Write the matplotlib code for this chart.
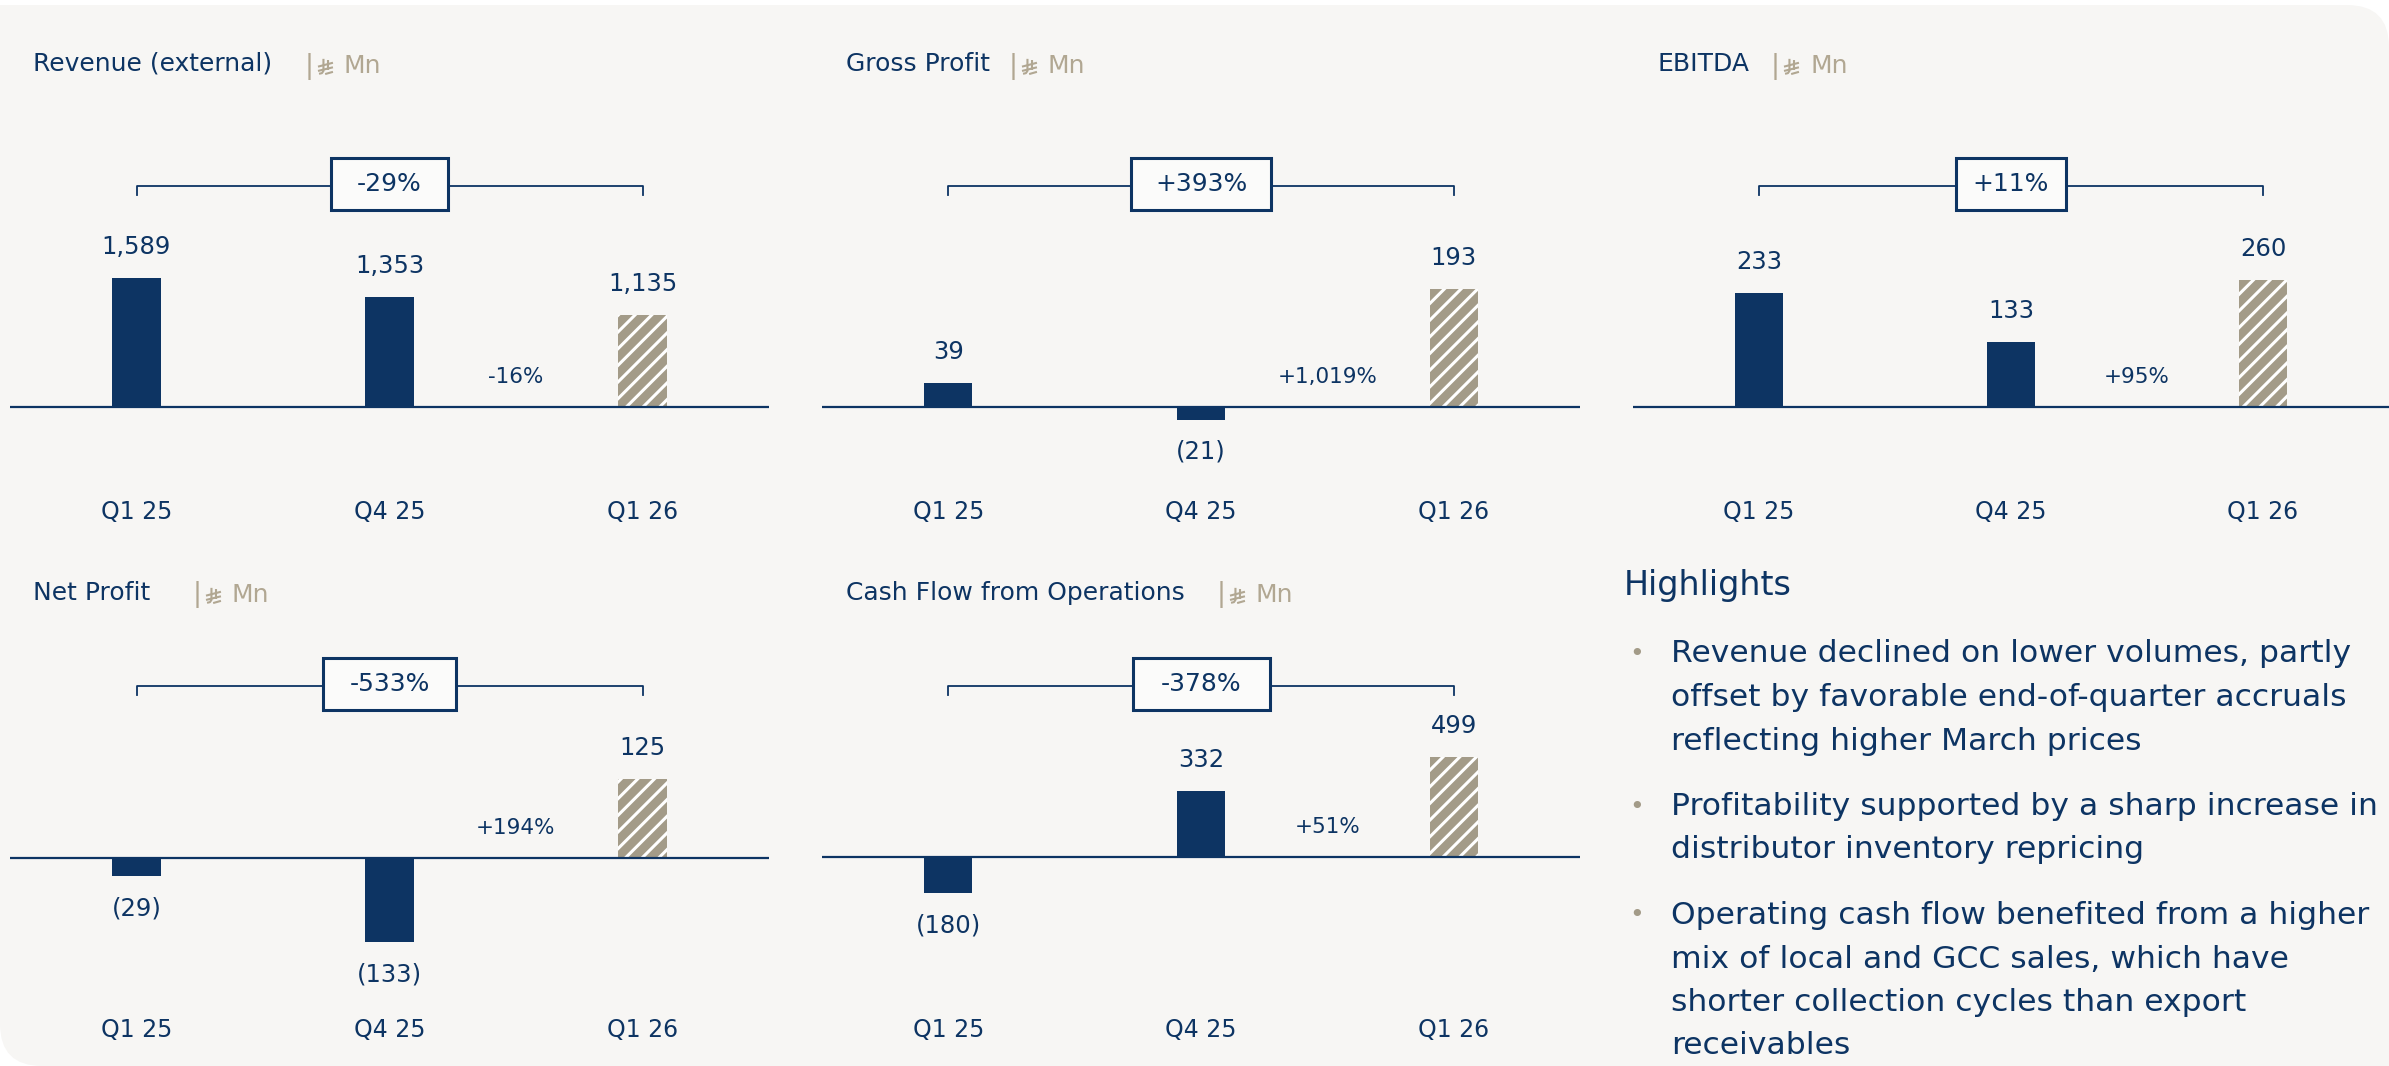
import matplotlib.pyplot as plt
import matplotlib.transforms as mtransforms
from matplotlib.patches import FancyBboxPatch, Rectangle
from matplotlib.lines import Line2D

# ---- data ----
quarters = ["Q1 25", "Q4 25", "Q1 26"]
revenue = [1589, 1353, 1135]
gross_profit = [39, -21, 193]
ebitda = [233, 133, 260]
net_profit = [-29, -133, 125]
cash_flow_ops = [-180, 332, 499]

titles = ["Revenue (external)", "Gross Profit", "EBITDA", "Net Profit", "Cash Flow from Operations"]
yoy_change = ["-29%", "+393%", "+11%", "-533%", "-378%"]
qoq_change = ["-16%", "+1,019%", "+95%", "+194%", "+51%"]

highlights = [
    ["Revenue declined on lower volumes, partly",
     "offset by favorable end-of-quarter accruals",
     "reflecting higher March prices"],
    ["Profitability supported by a sharp increase in",
     "distributor inventory repricing"],
    ["Operating cash flow benefited from a higher",
     "mix of local and GCC sales, which have",
     "shorter collection cycles than export",
     "receivables"],
]

# ---- style ----
NAVY = "#0d3463"
TAN = "#a39b88"
UNIT = "#b1a792"
BG = "#f7f6f4"
W, H = 2389, 1066

plt.rcParams["font.family"] = ["DejaVu Sans"]
plt.rcParams["hatch.linewidth"] = 2.2

fig = plt.figure(figsize=(W / 100, H / 100), dpi=100, facecolor="white")


def fx(x):
    return x / W


def fy(y):
    return 1 - y / H


# background card: rounded top-right and bottom-left corners
r = 42
card = FancyBboxPatch((0, 0), 1, fy(5), boxstyle=f"round,pad=0,rounding_size={r / W}",
                      mutation_aspect=W / H, transform=fig.transFigure,
                      facecolor=BG, edgecolor="none", zorder=-10)
fig.add_artist(card)
fig.add_artist(Rectangle((0, fy(5 + r)), fx(r), r / H, transform=fig.transFigure,
                         facecolor=BG, edgecolor="none", zorder=-10))
fig.add_artist(Rectangle((fx(W - r), 0), fx(r), r / H, transform=fig.transFigure,
                         facecolor=BG, edgecolor="none", zorder=-10))


def riyal(x, y, color):
    # small hand-drawn Saudi riyal sign, x,y = left / vertical centre in px
    s = 13.0
    strokes = [
        [(0.42, -0.55), (0.42, 0.38), (0.30, 0.55), (0.08, 0.60)],
        [(0.80, -0.45), (0.80, 0.30)],
        [(0.0, 0.05), (1.15, -0.25)],
        [(0.0, 0.38), (1.15, 0.10)],
        [(0.55, 0.62), (1.15, 0.45)],
    ]
    for st in strokes:
        xs = [fx(x + px * s) for px, py in st]
        ys = [fy(y + py * s) for px, py in st]
        fig.add_artist(Line2D(xs, ys, transform=fig.transFigure, color=color, lw=1.5,
                              solid_capstyle="butt"))


panels = [
    dict(values=revenue, x0=10, x1=769, top=150, bot=480, base=407, scale=0.081,
         title=(33, 64), unit_x=305, bracket=186, cat_y=512, box_w=117),
    dict(values=gross_profit, x0=822, x1=1580, top=150, bot=480, base=407, scale=0.61,
         title=(846, 64), unit_x=1009, bracket=186, cat_y=512, box_w=140),
    dict(values=ebitda, x0=1633, x1=2389, top=150, bot=480, base=407, scale=0.49,
         title=(1658, 64), unit_x=1771, bracket=186, cat_y=512, box_w=110),
    dict(values=net_profit, x0=10, x1=769, top=640, bot=980, base=858, scale=0.635,
         title=(33, 593), unit_x=193, bracket=686, cat_y=1030, box_w=133),
    dict(values=cash_flow_ops, x0=822, x1=1580, top=640, bot=980, base=857, scale=0.2,
         title=(846, 593), unit_x=1217, bracket=686, cat_y=1030, box_w=137),
]

for k, p in enumerate(panels):
    ax = fig.add_axes([fx(p["x0"]), fy(p["bot"]), fx(p["x1"] - p["x0"]),
                       (p["bot"] - p["top"]) / H])
    ax.set_xlim(-0.5, 2.5)
    ax.set_ylim(-(p["bot"] - p["base"]) / p["scale"], (p["base"] - p["top"]) / p["scale"])
    ax.axis("off")
    ax.patch.set_alpha(0)

    vals = p["values"]
    for i, v in enumerate(vals):
        if i == 2:
            ax.bar(i, v, width=0.19, color=TAN, edgecolor="white", hatch="//", linewidth=0, zorder=2)
        else:
            ax.bar(i, v, width=0.19, color=NAVY, linewidth=0, zorder=2)
        label = f"{v:,}" if v >= 0 else f"({abs(v):,})"
        ax.annotate(label, xy=(i, v), xytext=(0, 31 if v >= 0 else -32),
                    textcoords="offset pixels", ha="center", va="center",
                    fontsize=17.5, color=NAVY)
    ax.axhline(0, color=NAVY, lw=1.6, zorder=3)

    trans = mtransforms.blended_transform_factory(ax.transData, fig.transFigure)
    for i, q in enumerate(quarters):
        ax.text(i, fy(p["cat_y"]), q, transform=trans, ha="center", va="center",
                fontsize=17, color=NAVY)

    # QoQ change between last two bars
    ax.annotate(qoq_change[k], xy=(1.5, 0), xytext=(0, 30), textcoords="offset pixels",
                ha="center", va="center", fontsize=15.5, color=NAVY)

    # YoY bracket with framed label
    yb = p["bracket"]
    ax.plot([0, 0, 2, 2], [fy(yb + 9), fy(yb), fy(yb), fy(yb + 9)], transform=trans,
            color=NAVY, lw=1.3, clip_on=False, zorder=1)
    ax.text(1, fy(yb - 2), yoy_change[k], transform=trans, ha="center", va="center",
            fontsize=18, color=NAVY, zorder=6)
    cx = ax.transData.transform((1, 0))[0]
    bw, bh = p["box_w"], 52
    frame = Rectangle(((cx - bw / 2) / W, fy(yb - 2) - bh / 2 / H), bw / W, bh / H,
                      transform=fig.transFigure, facecolor="#fbfbfa",
                      edgecolor=NAVY, lw=2.2, zorder=5, clip_on=False)
    ax.add_artist(frame)

    # titles
    tx, ty = p["title"]
    fig.text(fx(tx), fy(ty), titles[k], ha="left", va="center", fontsize=18, color=NAVY)
    ux = p["unit_x"]
    fig.text(fx(ux), fy(ty + 2), "|", ha="left", va="center", fontsize=19, color=UNIT)
    riyal(ux + 13, ty + 2, UNIT)
    fig.text(fx(ux + 39), fy(ty + 2), "Mn", ha="left", va="center", fontsize=18, color=UNIT)

# highlights
fig.text(fx(1624), fy(585), "Highlights", ha="left", va="center", fontsize=24, color=NAVY)
y = 654
for para in highlights:
    fig.text(fx(1629), fy(y), "\u2022", ha="left", va="center", fontsize=18, color=TAN)
    for line in para:
        fig.text(fx(1671), fy(y), line, ha="left", va="center", fontsize=22.6, color=NAVY)
        y += 43.5
    y += 22

fig.savefig("out.png", dpi=100, facecolor="white")
